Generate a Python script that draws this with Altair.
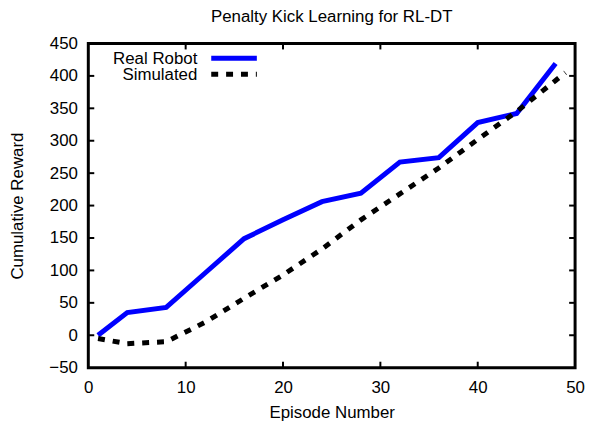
import altair as alt
import pandas as pd

# ---- data ----
real_episode = [1, 4, 8, 12, 16, 20, 24, 28, 32, 36, 40, 44, 48]
real_reward = [0, 35, 43, 96, 149, 178, 206, 219, 267, 274, 328, 342, 419]

sim_episode = [1, 4, 8, 12, 16, 20, 24, 28, 32, 36, 40, 44, 48, 49]
sim_reward = [-5, -13, -10, 20, 57, 93, 133, 178, 218, 258, 302, 345, 393, 405]

x_ticks = [0, 10, 20, 30, 40, 50]
y_ticks = [-50, 0, 50, 100, 150, 200, 250, 300, 350, 400, 450]

series_names = ["Real Robot", "Simulated"]
series_colors = ["#0000ff", "#000000"]

FONT = "Liberation Sans"
FS = 17
W, H = 491, 327
TICK = 6

real_df = pd.DataFrame({"Episode": real_episode, "Reward": real_reward, "Series": series_names[0]})
sim_df = pd.DataFrame({"Episode": sim_episode, "Reward": sim_reward, "Series": series_names[1]})

xscale = alt.Scale(domain=[0, 50], nice=False, zero=False)
yscale = alt.Scale(domain=[-50, 450], nice=False, zero=False)

xaxis = alt.Axis(values=x_ticks, title="Episode Number", grid=False, domain=False, ticks=False,
                 labelPadding=12, titlePadding=9, labelFont=FONT, titleFont=FONT,
                 labelFontSize=FS, titleFontSize=FS, titleFontWeight="normal",
                 labelColor="black", titleColor="black", labelOverlap=False,
                 labelFlush=False, labelBound=False)
yaxis = alt.Axis(values=y_ticks, title="Cumulative Reward", grid=False, domain=False, ticks=False,
                 labelPadding=11, titlePadding=23, labelFont=FONT, titleFont=FONT,
                 labelFontSize=FS, titleFontSize=FS, titleFontWeight="normal",
                 labelColor="black", titleColor="black", labelOverlap=False,
                 labelFlush=False, labelBound=False)

real_line = alt.Chart(real_df).mark_line(color=series_colors[0], strokeWidth=5, strokeJoin="miter").encode(
    x=alt.X("Episode:Q", scale=xscale, axis=xaxis, title="Episode Number"),
    y=alt.Y("Reward:Q", scale=yscale, axis=yaxis, title="Cumulative Reward"),
)
sim_line = alt.Chart(sim_df).mark_line(color=series_colors[1], strokeWidth=5, strokeDash=[7, 8]).encode(
    x=alt.X("Episode:Q", scale=xscale, axis=xaxis, title="Episode Number"),
    y=alt.Y("Reward:Q", scale=yscale, axis=yaxis, title="Cumulative Reward"),
)

# inward tick marks on all four sides (gnuplot style)
xt = pd.DataFrame({"t": x_ticks[1:-1]})
yt = pd.DataFrame({"t": y_ticks[1:-1]})
X_T = alt.X("t:Q", scale=xscale, axis=xaxis, title="Episode Number")
Y_T = alt.Y("t:Q", scale=yscale, axis=yaxis, title="Cumulative Reward")
xt_bottom = alt.Chart(xt).mark_rule(color="black", strokeWidth=2).encode(
    x=X_T, y=alt.value(H), y2=alt.value(H - TICK))
xt_top = alt.Chart(xt).mark_rule(color="black", strokeWidth=2).encode(
    x=X_T, y=alt.value(0), y2=alt.value(TICK))
yt_left = alt.Chart(yt).mark_rule(color="black", strokeWidth=2).encode(
    y=Y_T, x=alt.value(0), x2=alt.value(TICK))
yt_right = alt.Chart(yt).mark_rule(color="black", strokeWidth=2).encode(
    y=Y_T, x=alt.value(W), x2=alt.value(W - TICK))

# manual legend (label then sample, as gnuplot draws it)
leg = pd.DataFrame({"name": series_names})
leg_text_real = alt.Chart(leg.iloc[[0]]).mark_text(
    align="right", baseline="alphabetic", font=FONT, fontSize=FS, color="black").encode(
    text="name:N", x=alt.value(110), y=alt.value(21))
leg_text_sim = alt.Chart(leg.iloc[[1]]).mark_text(
    align="right", baseline="alphabetic", font=FONT, fontSize=FS, color="black").encode(
    text="name:N", x=alt.value(110), y=alt.value(37))
leg_line_real = alt.Chart(leg.iloc[[0]]).mark_rule(color=series_colors[0], strokeWidth=5).encode(
    x=alt.value(124), x2=alt.value(170), y=alt.value(15))
leg_line_sim = alt.Chart(leg.iloc[[1]]).mark_rule(color=series_colors[1], strokeWidth=5, strokeDash=[7, 8]).encode(
    x=alt.value(124), x2=alt.value(170), y=alt.value(31))

chart = alt.layer(
    real_line, sim_line, xt_bottom, xt_top, yt_left, yt_right,
    leg_text_real, leg_text_sim, leg_line_real, leg_line_sim,
).properties(
    width=W, height=H,
    title=alt.TitleParams("Penalty Kick Learning for RL-DT", font=FONT, fontSize=FS,
                          fontWeight="normal", color="black", anchor="middle", offset=9),
    padding={"left": 81, "top": 34, "right": 10, "bottom": 52},
    autosize=alt.AutoSizeParams(type="none"),
).configure(
    background="white"
).configure_view(
    stroke="black", strokeWidth=3
)

chart.save("out.html", embed_options={"renderer": "svg", "actions": False})
